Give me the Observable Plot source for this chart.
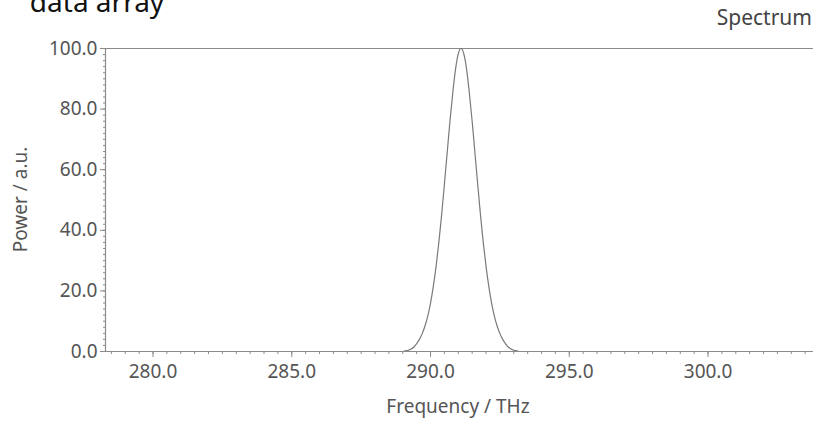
<!DOCTYPE html>
<html>
<head>
<meta charset="utf-8">
<script src="https://cdn.jsdelivr.net/npm/d3@7"></script>
<script src="https://cdn.jsdelivr.net/npm/@observablehq/plot@0.6"></script>
<style>
  html, body { margin: 0; padding: 0; background: #fff; }
  #chart svg { display: block; }
</style>
</head>
<body>
<div id="chart"></div>
<script>
const frequency = [278.0, 289.0, 289.1, 289.2, 289.3, 289.4, 289.5, 289.6, 289.7, 289.8, 289.9,
  290.0, 290.1, 290.2, 290.3, 290.4, 290.5, 290.6, 290.7, 290.8, 290.9,
  291.0, 291.1, 291.2, 291.3, 291.4, 291.5, 291.6, 291.7, 291.8, 291.9,
  292.0, 292.1, 292.2, 292.3, 292.4, 292.5, 292.6, 292.7, 292.8, 292.9,
  293.0, 293.1, 293.2, 304.0];
const power = [0, 0, 0.2, 0.4, 0.8, 1.5, 2.6, 4.0, 5.9, 8.4, 11.7,
  16.0, 21.5, 28.1, 36.0, 45.1, 55.2, 65.6, 76.0, 85.2, 93.1,
  98.2, 100, 98.2, 93.1, 85.2, 76.0, 65.6, 55.2, 45.1, 36.0,
  28.1, 21.5, 16.0, 11.7, 8.4, 5.9, 4.0, 2.6, 1.5, 0.8,
  0.4, 0.2, 0, 0];
const xTicks = [280, 285, 290, 295, 300];
const yTicks = [0, 20, 40, 60, 80, 100];
const xMinorTicks = d3.range(278.5, 304, 0.5);
const yMinorTicks = d3.range(0, 101, 2);
const titleText = "data array";
const seriesName = "Spectrum";
const xLabel = "Frequency / THz";
const yLabel = "Power / a.u.";

const data = frequency.map((f, i) => ({f, p: power[i]}));
const xDomain = [278.288, 303.80];
const fmt = d3.format(".1f");
const axisColor = "#8a8a8a";
const labelColor = "#555";

const chart = Plot.plot({
  width: 813,
  height: 426,
  marginLeft: 105,
  marginRight: 0,
  marginTop: 48,
  marginBottom: 75,
  style: {fontFamily: "'Noto Sans', sans-serif", fontSize: "19px", background: "#fff"},
  x: {domain: xDomain},
  y: {domain: [0, 100]},
  marks: [
    Plot.axisX({ticks: xMinorTicks, tickSize: 3, text: null, stroke: axisColor, label: null}),
    Plot.axisX({ticks: xTicks, tickSize: 6, tickPadding: 7, tickFormat: fmt, stroke: axisColor, fill: labelColor, fontSize: 19, label: null}),
    Plot.axisY({ticks: yMinorTicks, tickSize: 2, text: null, stroke: axisColor, label: null}),
    Plot.axisY({ticks: yTicks, tickSize: 5, tickPadding: 3, tickFormat: fmt, stroke: axisColor, fill: labelColor, fontSize: 19, label: null}),
    Plot.ruleY([0, 100], {stroke: axisColor, strokeWidth: 1.2}),
    Plot.ruleX([xDomain[0]], {stroke: axisColor, strokeWidth: 1.2}),
    Plot.line(data, {x: "f", y: "p", stroke: "#7a7a7a", strokeWidth: 1.2, curve: "monotone-x", clip: true})
  ]
});

const svg = d3.select(chart);
svg.append("text").attr("x", 97).attr("y", 12)
  .attr("font-family", "'Noto Sans', sans-serif").attr("font-size", 28).attr("fill", "#111")
  .text(titleText);
svg.append("text").attr("x", 812).attr("y", 25).attr("text-anchor", "end")
  .attr("font-family", "'Noto Sans', sans-serif").attr("font-size", 21).attr("fill", "#444")
  .text(seriesName);
svg.append("text").attr("x", 458).attr("y", 413).attr("text-anchor", "middle")
  .attr("font-family", "'Noto Sans', sans-serif").attr("font-size", 19).attr("fill", labelColor)
  .text(xLabel);
svg.append("text").attr("transform", "translate(27,199.5) rotate(-90)").attr("text-anchor", "middle")
  .attr("font-family", "'Noto Sans', sans-serif").attr("font-size", 19).attr("fill", labelColor)
  .text(yLabel);

document.getElementById("chart").appendChild(chart);
</script>
</body>
</html>
